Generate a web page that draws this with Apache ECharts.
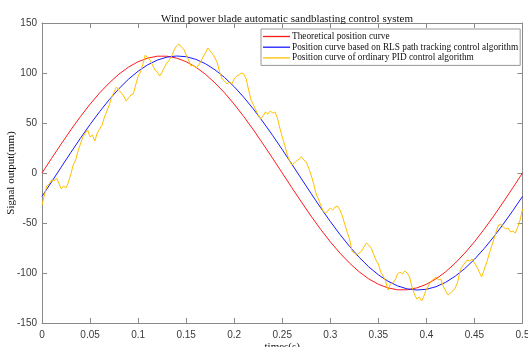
<!DOCTYPE html>
<html><head><meta charset="utf-8">
<script src="https://cdn.jsdelivr.net/npm/echarts@6/dist/echarts.min.js"></script>
<style>html,body{margin:0;padding:0;background:#fff}#c{width:528px;height:347px}</style>
</head><body><div id="c"></div>
<script>
// x positions (s)
const xRed = [0,0.01,0.02,0.03,0.04,0.05,0.06,0.07,0.08,0.09,0.10,0.11,0.12,0.13,0.14,0.15,0.16,0.17,0.18,0.19,0.20,0.21,0.22,0.23,0.24,0.25,0.26,0.27,0.28,0.29,0.30,0.31,0.32,0.33,0.34,0.35,0.36,0.37,0.38,0.39,0.40,0.41,0.42,0.43,0.44,0.45,0.46,0.47,0.48,0.49,0.50];
const theoretical = [0,14.7,29.1,43.1,56.4,68.8,80.1,90.1,98.8,105.9,111.3,114.9,116.8,116.8,114.9,111.3,105.9,98.8,90.1,80.1,68.8,56.4,43.1,29.1,14.7,0,-14.7,-29.1,-43.1,-56.4,-68.8,-80.1,-90.1,-98.8,-105.9,-111.3,-114.9,-116.8,-116.8,-114.9,-111.3,-105.9,-98.8,-90.1,-80.1,-68.8,-56.4,-43.1,-29.1,-14.7,0];
const rls = [-23.4,-8.8,5.9,20.5,34.8,48.5,61.4,73.4,84.3,93.8,101.8,108.2,112.9,115.9,117.0,116.3,113.7,109.3,103.2,95.5,86.3,75.7,63.9,51.1,37.6,23.4,8.8,-5.9,-20.5,-34.8,-48.5,-61.4,-73.4,-84.3,-93.8,-101.8,-108.2,-112.9,-115.9,-117.0,-116.3,-113.7,-109.3,-103.2,-95.5,-86.3,-75.7,-63.9,-51.1,-37.6,-23.4];
const pidStep = 0.0025;
const pid = [-32,-22,-13,-11,-7,-8,-5,-10,-16,-13,-15,-9,-1,8,13,22,29,36,40,43,
36,38,32,40,44,48,56,62,68,76,81,86,83,80,77,72,75,78,79,88,
97,101,109,118,115,113,108,103,101,97,101,106,110,113,117,123,127,129,126,124,
118,113,107,108,105,107,111,116,120,125,122,119,115,110,100,94,92,89,91,89,
94,97,98,100,99,94,83,73,68,63,58,54,57,61,59,62,60,61,55,45,
36,28,19,12,8,10,12,14,16,13,11,5,-2,-10,-20,-26,-32,-38,-40,-38,
-35,-37,-34,-33,-37,-43,-51,-59,-66,-78,-80,-82,-80,-78,-74,-70,-72,-75,-81,-87,
-91,-99,-103,-108,-117,-111,-110,-107,-101,-99,-101,-98,-100,-104,-114,-121,-126,-124,-128,-123,
-116,-112,-108,-106,-104,-107,-106,-113,-118,-122,-120,-118,-115,-109,-98,-93,-90,-87,-88,-86,
-90,-94,-99,-104,-97,-90,-82,-74,-67,-59,-52,-51,-54,-56,-55,-59,-58,-60,-54,-47,-36];
const xTicks = [0,0.05,0.1,0.15,0.2,0.25,0.3,0.35,0.4,0.45,0.5];
const names = ['Theoretical position curve','Position curve based on RLS path tracking control algorithm','Position curve of ordinary PID control algorithm'];

const redData = xRed.map((x,i)=>[x,theoretical[i]]);
const blueData = xRed.map((x,i)=>[x,rls[i]]);
const yelData = pid.map((v,i)=>[+(i*pidStep).toFixed(4),v]);

const axC = '#8a8a8a';
const serif = 'Liberation Serif, Times New Roman, serif';
const labelStyle = {color:'#3a3a3a',fontFamily:'Liberation Sans, Arial, sans-serif',fontSize:10};
const chart = echarts.init(document.getElementById('c'),null,{renderer:'canvas'});
chart.setOption({
  animation:false,
  backgroundColor:'#fff',
  title:{text:'Wind power blade automatic sandblasting control system',left:282,top:9,textAlign:'center',
    textStyle:{fontFamily:serif,fontSize:11,fontWeight:'normal',color:'#111'}},
  grid:{left:42,right:5.5,top:23,bottom:24,containLabel:false,outerBoundsMode:'none'},
  legend:{orient:'vertical',left:261,top:29,data:names,itemWidth:27,itemHeight:9,itemGap:1.7,
    icon:'path://M0,0h27v1.3h-27z',
    backgroundColor:'#fff',borderColor:'#999',borderWidth:1,borderRadius:0,padding:[3,2,3,2],
    textStyle:{fontFamily:serif,fontSize:9.3,color:'#111',padding:[0,0,0,-3]}},
  xAxis:[
    {type:'value',min:0,max:0.5,interval:0.05,position:'bottom',
      name:'times(s)',nameLocation:'middle',nameGap:19,nameMoveOverlap:false,
      nameTextStyle:{fontFamily:serif,fontSize:11,color:'#111'},
      axisLine:{onZero:false,lineStyle:{color:axC}},axisTick:{inside:true,length:5,lineStyle:{color:axC}},
      axisLabel:Object.assign({margin:7,formatter:v=>String(+v.toFixed(2))},labelStyle),splitLine:{show:false}},
    {type:'value',min:0,max:0.5,interval:0.05,position:'top',
      axisLine:{onZero:false,lineStyle:{color:axC}},axisTick:{inside:true,length:5,lineStyle:{color:axC}},
      axisLabel:{show:false},splitLine:{show:false}}
  ],
  yAxis:[
    {type:'value',min:-150,max:150,interval:50,position:'left',
      name:'Signal output(mm)',nameLocation:'middle',nameGap:25,nameRotate:90,nameMoveOverlap:false,
      nameTextStyle:{fontFamily:serif,fontSize:11,color:'#111'},
      axisLine:{show:true,onZero:false,lineStyle:{color:axC}},axisTick:{show:true,inside:true,length:5,lineStyle:{color:axC}},
      axisLabel:Object.assign({margin:5},labelStyle),splitLine:{show:false}},
    {type:'value',min:-150,max:150,interval:50,position:'right',
      axisLine:{show:true,onZero:false,lineStyle:{color:axC}},axisTick:{show:true,inside:true,length:5,lineStyle:{color:axC}},
      axisLabel:{show:false},splitLine:{show:false}}
  ],
  series:[
    {name:names[0],type:'line',data:redData,symbol:'none',lineStyle:{color:'#ff1a1a',width:1},itemStyle:{color:'#ff1a1a'},z:2},
    {name:names[1],type:'line',data:blueData,symbol:'none',lineStyle:{color:'#1a1aff',width:1},itemStyle:{color:'#1a1aff'},z:3},
    {name:names[2],type:'line',data:yelData,symbol:'none',lineStyle:{color:'#ffc000',width:1},itemStyle:{color:'#ffc000'},z:4}
  ]
});
</script></body></html>
